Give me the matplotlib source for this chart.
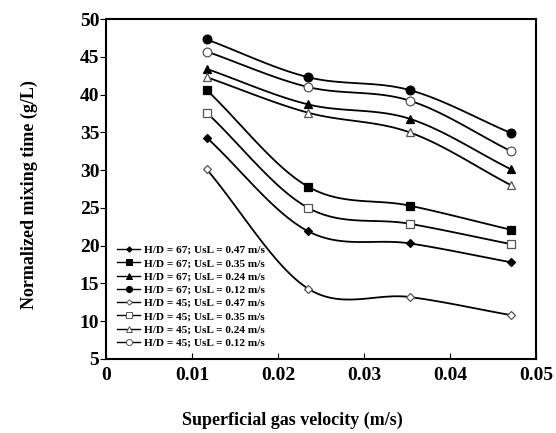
import numpy as np
import matplotlib
matplotlib.use('Agg')
import matplotlib.pyplot as plt
from matplotlib.lines import Line2D

plt.rcParams['font.family'] = ['Liberation Serif', 'DejaVu Serif']
plt.rcParams['font.weight'] = 'bold'

# superficial gas velocity (m/s)
ug = [0.0117, 0.0235, 0.0353, 0.0471]

# normalized mixing time for each case
hd67_047 = [34.3, 21.9, 20.3, 17.8]
hd67_035 = [40.6, 27.8, 25.3, 22.1]
hd67_024 = [43.4, 38.7, 36.8, 30.1]
hd67_012 = [47.3, 42.3, 40.6, 34.9]
hd45_047 = [30.1, 14.3, 13.2, 10.8]
hd45_035 = [37.6, 25.0, 22.9, 20.2]
hd45_024 = [42.3, 37.6, 35.0, 28.0]
hd45_012 = [45.7, 41.0, 39.2, 32.5]

labels = ['H/D = 67; UsL = 0.47 m/s', 'H/D = 67; UsL = 0.35 m/s',
          'H/D = 67; UsL = 0.24 m/s', 'H/D = 67; UsL = 0.12 m/s',
          'H/D = 45; UsL = 0.47 m/s', 'H/D = 45; UsL = 0.35 m/s',
          'H/D = 45; UsL = 0.24 m/s', 'H/D = 45; UsL = 0.12 m/s']
series = [hd67_047, hd67_035, hd67_024, hd67_012,
          hd45_047, hd45_035, hd45_024, hd45_012]
markers = ['D', 's', '^', 'o', 'D', 's', '^', 'o']
msizes = [4, 6.2, 6, 6.3, 4, 6.2, 6, 6.3]
filled = [True, True, True, True, False, False, False, False]


def smooth(x, y, n=40):
    # excel-like smoothed line (catmull-rom through the points)
    x = np.asarray(x, float)
    y = np.asarray(y, float)
    px = np.concatenate([[2*x[0]-x[1]], x, [2*x[-1]-x[-2]]])
    py = np.concatenate([[2*y[0]-y[1]], y, [2*y[-1]-y[-2]]])
    xs, ys = [], []
    t = np.linspace(0, 1, n)
    for i in range(1, len(px)-2):
        for p, out in ((px, xs), (py, ys)):
            p0, p1, p2, p3 = p[i-1], p[i], p[i+1], p[i+2]
            out.extend(0.5*((2*p1) + (-p0+p2)*t + (2*p0-5*p1+4*p2-p3)*t**2
                            + (-p0+3*p1-3*p2+p3)*t**3))
    return xs, ys


fig = plt.figure(figsize=(5.56, 4.33), dpi=100)
ax = fig.add_axes([0.191, 0.171, 0.773, 0.785])

handles = []
for y, m, ms, f, lab in zip(series, markers, msizes, filled, labels):
    sx, sy = smooth(ug, y)
    ax.plot(sx, sy, color='black', lw=1.3)
    fc = 'black' if f else 'white'
    ec = 'black' if f else '#555555'
    ax.plot(ug, y, linestyle='none', marker=m, ms=ms, mfc=fc, mec=ec, mew=0.9)
    handles.append(Line2D([], [], color='black', lw=1.0, marker=m, ms=ms*0.7,
                          mfc=fc, mec=ec, mew=0.7, label=lab))

ax.set_xlim(0, 0.05)
ax.set_ylim(5, 50)
ax.set_xticks([0, 0.01, 0.02, 0.03, 0.04, 0.05])
ax.set_xticklabels(['0', '0.01', '0.02', '0.03', '0.04', '0.05'])
ax.set_yticks(range(5, 51, 5))
ax.tick_params(axis='x', direction='in', length=4, labelsize=14, pad=6)
ax.tick_params(axis='y', direction='out', length=4, labelsize=14, pad=1)
for s in ax.spines.values():
    s.set_linewidth(1.5)
for t in ax.get_xticklabels() + ax.get_yticklabels():
    t.set_fontweight('bold')

ax.legend(handles=handles, loc='lower left', bbox_to_anchor=(0.0, 0.0),
          frameon=False, prop={'size': 8.1, 'weight': 'bold'},
          handlelength=2.0, labelspacing=0.3, handletextpad=0.4,
          borderaxespad=0.6)

fig.text(0.525, 0.03, 'Superficial gas velocity (m/s)', ha='center',
         va='center', fontsize=13, fontweight='bold')
fig.text(0.053, 0.55, 'Normalized mixing time (g/L)', ha='center',
         va='center', rotation=90, fontsize=13, fontweight='bold')

plt.savefig('out.png', dpi=100)
